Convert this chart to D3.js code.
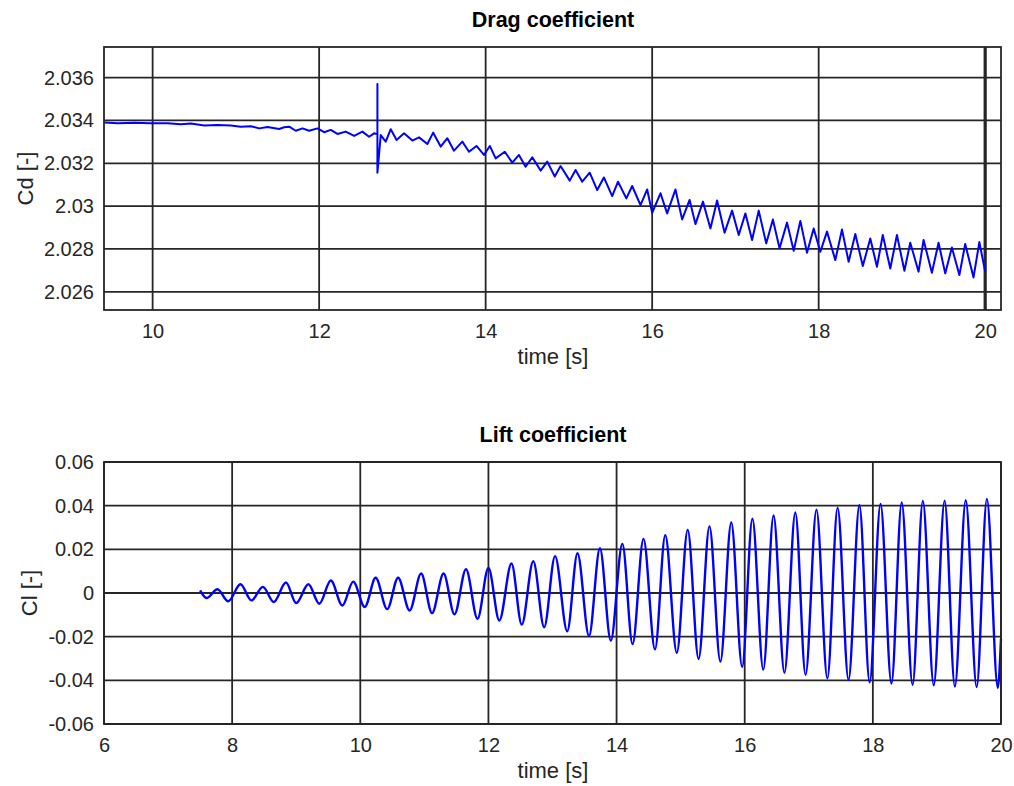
<!DOCTYPE html>
<html>
<head>
<meta charset="utf-8">
<script src="https://cdn.jsdelivr.net/npm/d3@7"></script>
<style>
  body { margin: 0; background: #fff; }
  svg { display: block; font-family: "Liberation Sans", Arial, sans-serif; }
  .tick-label { font-size: 20px; fill: #262626; }
  .axis-label { font-size: 22px; fill: #262626; }
  .title { font-size: 21.5px; font-weight: bold; fill: #000; }
  .grid line { stroke: #262626; stroke-width: 1.8; }
  .frame { fill: none; stroke: #262626; stroke-width: 1.8; }
</style>
</head>
<body>
<svg id="chart" width="1014" height="786"></svg>
<script>
// drag coefficient, peaks and troughs
const dragTime = [9.42, 9.58, 9.78, 9.98, 10.18, 10.34, 10.46, 10.62, 10.78, 10.94,
  11.06, 11.18, 11.28, 11.38, 11.52, 11.58, 11.64, 11.72, 11.80, 11.88,
  11.98, 12.06, 12.14, 12.22, 12.32, 12.42, 12.52, 12.60, 12.66, 12.70,
  12.70, 12.70, 12.74, 12.80, 12.86, 12.93, 13.02, 13.12, 13.20, 13.30, 13.37,
  13.46, 13.54, 13.62, 13.72, 13.80, 13.89, 13.98, 14.05, 14.12, 14.23,
  14.32, 14.40, 14.48, 14.56, 14.66, 14.74, 14.83, 14.90, 15.01, 15.08,
  15.16, 15.25, 15.34, 15.42, 15.52, 15.59, 15.69, 15.76, 15.86, 15.94,
  16.00, 16.10, 16.18, 16.28, 16.36, 16.45, 16.52, 16.61, 16.70, 16.78,
  16.87, 16.96, 17.04, 17.12, 17.20, 17.28, 17.37, 17.45, 17.53, 17.62,
  17.70, 17.78, 17.86, 17.94, 18.02, 18.10, 18.20, 18.28, 18.36, 18.44,
  18.53, 18.62, 18.70, 18.77, 18.86, 18.94, 19.03, 19.10, 19.20, 19.26,
  19.36, 19.44, 19.52, 19.60, 19.69, 19.76, 19.86, 19.93, 20.00];
const dragCd = [2.03391, 2.03387, 2.03389, 2.03387, 2.03387, 2.03382, 2.03386, 2.03376, 2.03379, 2.03376,
  2.03371, 2.03373, 2.03363, 2.03369, 2.03360, 2.03368, 2.03371, 2.03352, 2.03363, 2.03352,
  2.03363, 2.03345, 2.03356, 2.03337, 2.03348, 2.03328, 2.03348, 2.03324, 2.03340, 2.03335,
  2.03570, 2.03156, 2.03332, 2.03301, 2.03359, 2.03309, 2.03340, 2.03306, 2.03321, 2.03290, 2.03343,
  2.03278, 2.03317, 2.03259, 2.03301, 2.03254, 2.03281, 2.03239, 2.03281, 2.03223, 2.03254,
  2.03203, 2.03239, 2.03184, 2.03228, 2.03166, 2.03208, 2.03138, 2.03187, 2.03119, 2.03169,
  2.03114, 2.03156, 2.03075, 2.03134, 2.03047, 2.03114, 2.03036, 2.03094, 2.03005, 2.03078,
  2.02969, 2.03060, 2.02966, 2.03078, 2.02938, 2.03029, 2.02916, 2.03021, 2.02896, 2.03026,
  2.02876, 2.02979, 2.02865, 2.02966, 2.02842, 2.02979, 2.02826, 2.02938, 2.02803, 2.02923,
  2.02792, 2.02931, 2.02782, 2.02896, 2.02787, 2.02881, 2.02748, 2.02891, 2.02740, 2.02870,
  2.02720, 2.02849, 2.02717, 2.02865, 2.02709, 2.02865, 2.02698, 2.02829, 2.02694, 2.02842,
  2.02689, 2.02829, 2.02686, 2.02807, 2.02678, 2.02823, 2.02667, 2.02832, 2.02694];

// lift coefficient, one value per peak / trough
const liftTime = [7.50, 7.60, 7.77, 7.94, 8.13, 8.30, 8.48, 8.65, 8.84, 9.00,
  9.19, 9.36, 9.54, 9.72, 9.89, 10.07, 10.24, 10.42, 10.59, 10.77,
  10.95, 11.12, 11.30, 11.47, 11.65, 11.83, 12.00, 12.17, 12.36, 12.52,
  12.70, 12.87, 13.04, 13.23, 13.39, 13.57, 13.74, 13.91, 14.09, 14.25,
  14.42, 14.60, 14.76, 14.94, 15.11, 15.28, 15.45, 15.62, 15.79, 15.96,
  16.12, 16.29, 16.45, 16.62, 16.79, 16.95, 17.12, 17.29, 17.45, 17.62,
  17.79, 17.95, 18.12, 18.29, 18.45, 18.62, 18.78, 18.95, 19.12, 19.28,
  19.45, 19.62, 19.78, 19.95, 20.00];
const liftCl = [0.0012, -0.0023, 0.0017, -0.0038, 0.0040, -0.0034, 0.0028, -0.0041, 0.0048, -0.0046,
  0.0040, -0.0049, 0.0057, -0.0057, 0.0052, -0.0064, 0.0070, -0.0074, 0.0070, -0.0080,
  0.0089, -0.0092, 0.0089, -0.0098, 0.0109, -0.0118, 0.0115, -0.0126, 0.0135, -0.0145,
  0.0146, -0.0157, 0.0169, -0.0175, 0.0182, -0.0197, 0.0205, -0.0218, 0.0225, -0.0234,
  0.0248, -0.0258, 0.0265, -0.0274, 0.0289, -0.0302, 0.0305, -0.0314, 0.0323, -0.0338,
  0.0340, -0.0351, 0.0355, -0.0365, 0.0369, -0.0375, 0.0382, -0.0391, 0.0391, -0.0398,
  0.0402, -0.0409, 0.0408, -0.0415, 0.0415, -0.0420, 0.0422, -0.0423, 0.0423, -0.0428,
  0.0425, -0.0431, 0.0431, -0.0434, -0.021];

// ticks
const dragXTicks = [10, 12, 14, 16, 18, 20];
const dragYTicks = [2.026, 2.028, 2.030, 2.032, 2.034, 2.036];
const dragYLabels = ["2.026", "2.028", "2.03", "2.032", "2.034", "2.036"];
const liftXTicks = [6, 8, 10, 12, 14, 16, 18, 20];
const liftYTicks = [-0.06, -0.04, -0.02, 0, 0.02, 0.04, 0.06];
const liftYLabels = ["-0.06", "-0.04", "-0.02", "0", "0.02", "0.04", "0.06"];

(function(){
  "use strict";

  const svg = d3.select("#chart");

  // draws one subplot: frame, grid, ticks, labels and the line
  function drawPanel(cfg){
    let x = d3.scaleLinear().domain(cfg.xDomain).range([104, 1001]);
    let y = d3.scaleLinear().domain(cfg.yDomain).range([cfg.bottom, cfg.top]);

    let g = svg.append("g");

    // grid lines (same colour as the box, like octave)
    let grid = g.append("g").attr("class", "grid");
    grid.selectAll(".gx").data(cfg.xTicks).enter().append("line")
      .attr("x1", d => x(d)).attr("x2", d => x(d))
      .attr("y1", cfg.top).attr("y2", cfg.bottom)
      .style("stroke-width", d => d === cfg.thickX ? 3.2 : null);
    grid.selectAll(".gy").data(cfg.yTicks).enter().append("line")
      .attr("x1", 104).attr("x2", 1001)
      .attr("y1", d => y(d)).attr("y2", d => y(d));

    // data line
    let line = d3.line()
      .x(d => x(d[0]))
      .y(d => y(d[1]))
      .curve(cfg.curve);

    g.append("path")
      .datum(d3.zip(cfg.xs, cfg.ys))
      .attr("d", line)
      .attr("fill", "none")
      .attr("stroke", "#0000ff")
      .attr("stroke-width", cfg.lineWidth)
      .attr("stroke-linejoin", "round");

    g.append("rect").attr("class", "frame")
      .attr("x", 104).attr("y", cfg.top)
      .attr("width", 1001 - 104).attr("height", cfg.bottom - cfg.top);

    // axes, only used for the labels
    let xAxis = d3.axisBottom(x).tickValues(cfg.xTicks).tickSize(0).tickPadding(0);
    let ax = g.append("g").attr("transform", `translate(0,${cfg.bottom + 14})`).call(xAxis);
    ax.select(".domain").remove();
    ax.selectAll("text").attr("class", "tick-label").attr("dy", "0.71em").attr("fill", null);

    let yAxis = d3.axisLeft(y).tickValues(cfg.yTicks).tickSize(0).tickPadding(0)
      .tickFormat((d, i) => cfg.yLabels[i]);
    let ay = g.append("g").attr("transform", "translate(94,0)").call(yAxis);
    ay.select(".domain").remove();
    ay.selectAll("text").attr("class", "tick-label").attr("fill", null);

    g.append("text").attr("class", "title")
      .attr("x", 553).attr("y", cfg.top - 20)
      .attr("text-anchor", "middle").text(cfg.title);

    g.append("text").attr("class", "axis-label")
      .attr("x", 553).attr("y", cfg.bottom + 54)
      .attr("text-anchor", "middle").text("time [s]");

    g.append("text").attr("class", "axis-label")
      .attr("transform", `translate(${cfg.ylabelX},${(cfg.top + cfg.bottom) / 2}) rotate(-90)`)
      .attr("text-anchor", "middle").text(cfg.ylabel);
  }

  drawPanel({
    title: "Drag coefficient", ylabel: "Cd [-]", ylabelX: 33,
    top: 47, bottom: 310,
    xDomain: [9.416, 20.19], yDomain: [2.02515, 2.03743],
    xTicks: dragXTicks, yTicks: dragYTicks, yLabels: dragYLabels,
    xs: dragTime, ys: dragCd, curve: d3.curveLinear, lineWidth: 2, thickX: 20
  });

  drawPanel({
    title: "Lift coefficient", ylabel: "Cl [-]", ylabelX: 37,
    top: 462, bottom: 724,
    xDomain: [6, 20], yDomain: [-0.06, 0.06],
    xTicks: liftXTicks, yTicks: liftYTicks, yLabels: liftYLabels,
    xs: liftTime, ys: liftCl, curve: d3.curveMonotoneX, lineWidth: 2.4
  });

})();
</script>
</body>
</html>
